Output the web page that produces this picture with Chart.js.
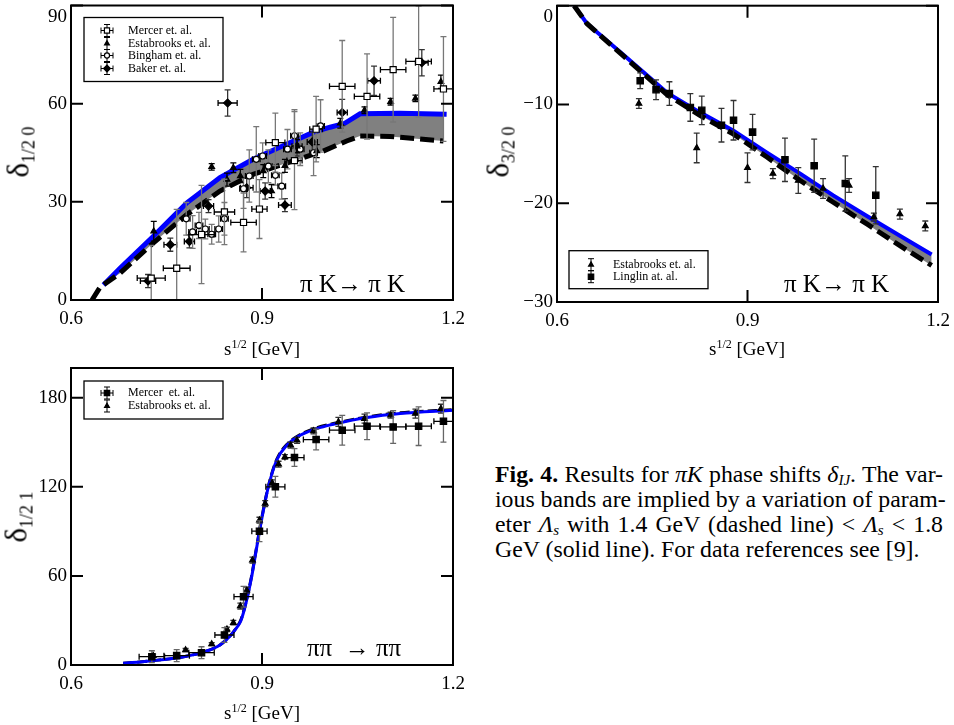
<!DOCTYPE html>
<html>
<head>
<meta charset="utf-8">
<script src="https://cdn.jsdelivr.net/npm/chart.js@4.4.1/dist/chart.umd.min.js"></script>
<style>
body{margin:0;width:954px;height:725px;background:#fff;position:relative;overflow:hidden;font-family:"Liberation Serif",serif;color:#000}
.pane{position:absolute}
.t{position:absolute;white-space:nowrap;line-height:1}
.ytitle{font-size:31px;transform:translate(-50%,-50%) rotate(-90deg)}
.ytitle sub{font-size:18px;vertical-align:-6px}
.xtitle{font-size:19px;transform:translate(-50%,-50%)}
.xtitle sup{font-size:12px;vertical-align:7px}
.react{font-size:25px;transform:translateY(-50%)}
#caption{position:absolute;left:495px;top:462px;width:448px;font-size:23.8px;line-height:25px}
#caption div{white-space:nowrap;text-align:justify;text-align-last:justify}
#caption div.last{text-align-last:left}
#caption sub{font-size:15px;line-height:0;vertical-align:-3px}
</style>
</head>
<body>
<canvas id="p1" class="pane" width="470" height="340" style="left:0;top:0"></canvas>
<canvas id="p2" class="pane" width="474" height="342" style="left:480px;top:0"></canvas>
<canvas id="p3" class="pane" width="470" height="345" style="left:0;top:360px"></canvas>

<div class="t ytitle" style="left:20px;top:152px">δ<sub>1/2 0</sub></div>
<div class="t ytitle" style="left:500px;top:152px">δ<sub>3/2 0</sub></div>
<div class="t ytitle" style="left:18px;top:517px">δ<sub>1/2 1</sub></div>

<div class="t xtitle" style="left:262px;top:348px">s<sup>1/2</sup> [GeV]</div>
<div class="t xtitle" style="left:747px;top:348px">s<sup>1/2</sup> [GeV]</div>
<div class="t xtitle" style="left:262px;top:712px">s<sup>1/2</sup> [GeV]</div>

<div class="t react" style="left:300px;top:283px">π K→ π K</div>
<div class="t react" style="left:784px;top:283px">π K→ π K</div>
<div class="t react" style="left:307px;top:647px">ππ&nbsp; → ππ</div>

<div id="caption">
<div><b>Fig. 4.</b> Results for <i>πK</i> phase shifts <i>δ<sub>IJ</sub></i>. The var-</div>
<div>ious bands are implied by a variation of param-</div>
<div>eter <i>Λ<sub>s</sub></i> with 1.4 GeV (dashed line) &lt; <i>Λ<sub>s</sub></i> &lt; 1.8</div>
<div class="last">GeV (solid line). For data references see [9].</div>
</div>

<script>
// axis ticks
const xTicks = [0.6, 0.9, 1.2];
const p1YTicks = [0, 30, 60, 90];
const p2YTicks = [0, -10, -20, -30];
const p3YTicks = [0, 60, 120, 180];

// ---- panel 1: delta 1/2 0 ----
const p1MercerX = [0.726, 0.766, 0.805, 0.841, 0.871, 0.896, 0.921, 0.951, 0.985, 1.026, 1.065, 1.106, 1.146, 1.185];
const p1MercerY = [6.7, 9.7, 20.0, 26.9, 23.7, 27.8, 48.1, 42.6, 52.2, 65.3, 62.2, 70.4, 72.9, 64.5];
const p1MercerXerr = [0.022, 0.021, 0.02, 0.016, 0.02, 0.012, 0.015, 0.012, 0.01, 0.02, 0.02, 0.02, 0.02, 0.015];
const p1MercerYerr = [10, 18, 15, 10, 9, 9, 9, 15, 10, 14, 13, 16, 17, 16];

const p1EstX = [0.730, 0.821, 0.845, 0.855, 0.866, 0.902, 0.915, 0.936, 0.955, 0.986, 1.023, 1.061, 1.102, 1.141, 1.181];
const p1EstY = [21.0, 40.7, 36.8, 40.4, 37.9, 39.4, 33.3, 41.0, 47.0, 45.5, 54.0, 58.0, 60.6, 61.6, 66.7];
const p1EstYerr = [3, 1, 2, 1.5, 2, 2, 2, 2, 2, 2, 1.5, 1, 1, 1, 2];

const p1BingX = [0.781, 0.791, 0.801, 0.811, 0.821, 0.832, 0.841, 0.871, 0.880, 0.891, 0.901, 0.910, 0.921, 0.931, 0.940, 0.951, 0.960, 0.981, 0.992];
const p1BingY = [24.8, 20.8, 22.8, 21.7, 20.1, 21.7, 24.8, 34.0, 37.9, 43.0, 44.0, 40.9, 38.1, 34.8, 46.1, 50.2, 46.1, 45.0, 53.2];
const p1BingXerr = [0.006, 0.006, 0.006, 0.006, 0.006, 0.006, 0.006, 0.006, 0.006, 0.006, 0.006, 0.006, 0.006, 0.006, 0.006, 0.006, 0.006, 0.006, 0.006];
const p1BingYerr = [5, 5, 4, 3, 3, 4, 5, 6, 8, 10, 4, 5, 3, 4, 6, 8, 5, 7, 8];

const p1BakerX = [0.721, 0.756, 0.786, 0.816, 0.846, 0.876, 0.905, 0.936, 0.955, 0.979, 1.026, 1.076, 1.151];
const p1BakerY = [5.8, 16.9, 17.9, 28.7, 60.2, 34.3, 33.3, 29.0, 47.0, 48.3, 57.3, 67.0, 72.5];
const p1BakerXerr = [0.012, 0.01, 0.008, 0.008, 0.015, 0.01, 0.008, 0.01, 0.008, 0.008, 0.008, 0.01, 0.01];
const p1BakerYerr = [2, 2, 2, 2, 4, 3, 2.5, 2, 3, 3, 4, 4.5, 4];

const p1SolidX = [0.651, 0.677, 0.729, 0.782, 0.834, 0.886, 0.941, 0.981, 1.007, 1.030, 1.054, 1.117, 1.190];
const p1SolidY = [4.6, 9.7, 19.4, 29.7, 37.4, 43.0, 47.8, 51.3, 52.8, 54.0, 56.9, 57.1, 56.8];
const p1DashX = [0.633, 0.646, 0.677, 0.729, 0.782, 0.834, 0.886, 0.941, 0.996, 1.033, 1.054, 1.101, 1.185];
const p1DashY = [0, 4, 8.2, 17.4, 26.1, 33.3, 38.4, 42.0, 45.5, 48.6, 50.1, 50.0, 48.6];

// ---- panel 2: delta 3/2 0 ----
const p2EstX = [0.729, 0.820, 0.900, 0.940, 0.980, 1.019, 1.060, 1.099, 1.140, 1.180];
const p2EstY = [-9.9, -14.4, -16.4, -17.0, -17.7, -18.5, -18.2, -21.4, -21.1, -22.3];
const p2EstYerr = [0.5, 1.5, 1.5, 0.5, 1.3, 1.0, 0.7, 0.4, 0.5, 0.5];

const p2LingX = [0.731, 0.756, 0.777, 0.810, 0.828, 0.859, 0.878, 0.908, 0.959, 1.005, 1.054, 1.102];
const p2LingY = [-7.6, -8.5, -8.9, -10.3, -10.6, -12.1, -11.6, -12.8, -15.6, -16.2, -18.0, -19.2];
const p2LingYerr = [0.8, 1.0, 1.2, 1.4, 1.45, 1.7, 2.0, 1.8, 2.2, 2.7, 2.8, 2.9];

const p2SolidX = [0.627, 0.647, 0.705, 0.773, 0.825, 0.878, 0.930, 0.983, 1.035, 1.088, 1.140, 1.190];
const p2SolidY = [0, -1.8, -5.0, -8.8, -10.8, -12.65, -14.85, -17.0, -19.2, -21.3, -23.3, -25.2];
const p2DashX = [0.627, 0.647, 0.705, 0.773, 0.825, 0.878, 0.930, 0.983, 1.035, 1.088, 1.140, 1.190];
const p2DashY = [0, -1.8, -5.1, -9.0, -11.1, -13.0, -15.3, -17.7, -19.9, -22.1, -24.3, -26.3];

// ---- panel 3: delta 1/2 1 ----
const p3MercerX = [0.727, 0.766, 0.805, 0.841, 0.871, 0.896, 0.921, 0.951, 0.985, 1.026, 1.065, 1.106, 1.146, 1.185];
const p3MercerY = [5.6, 6.3, 8.3, 20.2, 46.0, 90.1, 120.0, 139.7, 151.8, 158.1, 160.8, 160.3, 160.8, 164.1];
const p3MercerXerr = [0.02, 0.02, 0.02, 0.015, 0.015, 0.012, 0.015, 0.015, 0.02, 0.02, 0.02, 0.02, 0.02, 0.015];
const p3MercerYerr = [4, 4, 4, 5, 7, 7, 7, 6, 7, 10, 9, 11, 13, 14];

const p3EstX = [0.729, 0.780, 0.821, 0.845, 0.855, 0.866, 0.876, 0.885, 0.896, 0.905, 0.916, 0.926, 0.936, 0.945, 0.955, 0.981, 1.020, 1.061, 1.102, 1.141, 1.181];
const p3EstY = [6.3, 10.1, 14.1, 24.0, 28.5, 39.7, 50.4, 70.6, 97.5, 108.7, 122.6, 135.2, 140.1, 148.0, 151.3, 157.6, 163.7, 165.9, 168.2, 169.3, 172.6];
const p3EstYerr = [1, 1, 1, 1.5, 1.5, 2, 2, 2, 2, 2, 2, 2, 1.5, 2, 2, 2, 3, 3, 2, 3, 3];

const p3SolidX = [0.682, 0.724, 0.777, 0.813, 0.834, 0.850, 0.860, 0.867, 0.875, 0.884, 0.890, 0.896, 0.903, 0.910, 0.923, 0.939, 0.960, 0.986, 1.012, 1.065, 1.117, 1.200];
const p3SolidY = [1.1, 2.7, 5.6, 9.4, 13.5, 19.5, 25, 30, 42, 60, 75, 90, 106, 120, 137.9, 148, 154.7, 159.2, 162.1, 166.6, 169.3, 171.5];
const p3DashX = [0.682, 0.724, 0.777, 0.813, 0.834, 0.850, 0.860, 0.867, 0.875, 0.884, 0.890, 0.896, 0.903, 0.910, 0.923, 0.939, 0.960, 0.986, 1.012, 1.065, 1.117, 1.200];
const p3DashY = [1.1, 2.7, 5.6, 9.4, 13.5, 19.7, 25.3, 30.6, 42.6, 60.6, 75.6, 90.6, 106.5, 120.5, 138.3, 148.5, 155.2, 159.8, 162.6, 167.1, 169.8, 172.0];

Chart.defaults.font.family = '"Liberation Serif", serif';
Chart.defaults.color = '#000';

const fmt = v => v < 0 ? '\u2212' + Math.abs(v) : String(v);
const pts = (xs, ys) => xs.map((v, i) => ({x: v, y: ys[i]}));

function markers(label, xs, ys, xerr, yerr, style, radius, fill, errColor) {
    return {
        label: label, data: pts(xs, ys), xerr: xerr, yerr: yerr, errColor: errColor,
        showLine: false, pointStyle: style, pointRadius: radius,
        pointBackgroundColor: fill, pointBorderColor: '#000', pointBorderWidth: 1.2
    };
}

function curve(label, xs, ys, color, width, dash, fill, smooth) {
    return {
        label: label, data: pts(xs, ys), showLine: true, pointRadius: 0,
        borderColor: color, borderWidth: width, borderDash: dash,
        fill: fill, backgroundColor: '#808080',
        cubicInterpolationMode: smooth ? 'monotone' : 'default'
    };
}

// error bars drawn just before each marker dataset
const errorBars = {
    id: 'errorBars',
    beforeDatasetDraw(chart, args) {
        const ds = chart.data.datasets[args.index];
        if (!ds.yerr) return;
        const {ctx, chartArea: a, scales: {x, y}} = chart;
        const cap = 3;
        ctx.save();
        ctx.beginPath();
        ctx.rect(a.left, a.top, a.right - a.left, a.bottom - a.top);
        ctx.clip();
        ctx.lineWidth = 1.3;
        ds.data.forEach((p, i) => {
            const px = x.getPixelForValue(p.x), py = y.getPixelForValue(p.y);
            const xe = ds.xerr ? ds.xerr[i] : 0, ye = ds.yerr[i];
            if (ye) {
                const y1 = y.getPixelForValue(p.y + ye), y2 = y.getPixelForValue(p.y - ye);
                ctx.strokeStyle = ds.errColor;
                ctx.beginPath();
                ctx.moveTo(px, y1); ctx.lineTo(px, y2);
                ctx.moveTo(px - cap, y1); ctx.lineTo(px + cap, y1);
                ctx.moveTo(px - cap, y2); ctx.lineTo(px + cap, y2);
                ctx.stroke();
            }
            if (xe) {
                const x1 = x.getPixelForValue(p.x - xe), x2 = x.getPixelForValue(p.x + xe);
                ctx.strokeStyle = '#000';
                ctx.beginPath();
                ctx.moveTo(x1, py); ctx.lineTo(x2, py);
                ctx.moveTo(x1, py - cap); ctx.lineTo(x1, py + cap);
                ctx.moveTo(x2, py - cap); ctx.lineTo(x2, py + cap);
                ctx.stroke();
            }
        });
        ctx.restore();
    }
};

// box around the plot with inward tick marks on all four sides
const frame = {
    id: 'frame',
    afterDatasetsDraw(chart) {
        const {ctx, chartArea: a, scales: {x, y}} = chart;
        const L = 12;
        ctx.save();
        ctx.strokeStyle = '#000';
        ctx.lineWidth = 2;
        ctx.strokeRect(a.left, a.top, a.right - a.left, a.bottom - a.top);
        ctx.beginPath();
        x.ticks.forEach(t => {
            const px = x.getPixelForValue(t.value);
            ctx.moveTo(px, a.bottom); ctx.lineTo(px, a.bottom - L);
            ctx.moveTo(px, a.top); ctx.lineTo(px, a.top + L);
        });
        y.ticks.forEach(t => {
            const py = y.getPixelForValue(t.value);
            ctx.moveTo(a.left, py); ctx.lineTo(a.left + L, py);
            ctx.moveTo(a.right, py); ctx.lineTo(a.right - L, py);
        });
        ctx.stroke();
        ctx.restore();
    }
};

// legend box in the style of the original plot
const boxLegend = {
    id: 'boxLegend',
    afterDraw(chart, args, opts) {
        if (!opts.rows) return;
        const {ctx, chartArea: a} = chart;
        const bx = a.left + opts.box[0], by = a.top + opts.box[1];
        ctx.save();
        ctx.fillStyle = '#fff';
        ctx.fillRect(bx, by, opts.box[2], opts.box[3]);
        ctx.strokeStyle = '#000';
        ctx.lineWidth = 1.3;
        ctx.strokeRect(bx, by, opts.box[2], opts.box[3]);
        ctx.font = '12px "Liberation Serif"';
        ctx.textBaseline = 'middle';
        ctx.textAlign = 'left';
        opts.rows.forEach(r => {
            const ds = chart.data.datasets[r.ds];
            const sx = a.left + opts.symX, sy = a.top + r.y;
            ctx.strokeStyle = '#000';
            ctx.lineWidth = 1;
            ctx.beginPath();
            ctx.moveTo(sx, sy - 6); ctx.lineTo(sx, sy + 6);
            ctx.moveTo(sx - 3, sy - 6); ctx.lineTo(sx + 3, sy - 6);
            ctx.moveTo(sx - 3, sy + 6); ctx.lineTo(sx + 3, sy + 6);
            if (ds.xerr) {
                ctx.moveTo(sx - 6, sy); ctx.lineTo(sx + 6, sy);
                ctx.moveTo(sx - 6, sy - 3); ctx.lineTo(sx - 6, sy + 3);
                ctx.moveTo(sx + 6, sy - 3); ctx.lineTo(sx + 6, sy + 3);
            }
            ctx.stroke();
            ctx.fillStyle = ds.pointBackgroundColor;
            ctx.lineWidth = ds.pointBorderWidth;
            Chart.helpers.drawPoint(ctx, {pointStyle: ds.pointStyle, radius: ds.pointRadius * 0.85, borderWidth: ds.pointBorderWidth, rotation: 0}, sx, sy);
            ctx.fillStyle = '#000';
            ctx.fillText(ds.label, a.left + opts.textX, sy);
        });
        ctx.restore();
    }
};

function scales(yTicks, yMin, yMax, yWidth) {
    return {
        x: {
            type: 'linear', min: 0.6, max: 1.2,
            afterBuildTicks: s => { s.ticks = xTicks.map(v => ({value: v})); },
            afterFit: s => { s.height = 40; s.paddingLeft = 0; s.paddingRight = 0; },
            grid: {display: false, drawTicks: false}, border: {display: false},
            ticks: {padding: 8, maxRotation: 0, autoSkip: false, font: {size: 19}, callback: v => v.toFixed(1)}
        },
        y: {
            type: 'linear', min: yMin, max: yMax,
            afterBuildTicks: s => { s.ticks = yTicks.map(v => ({value: v})); },
            afterFit: s => { s.width = yWidth; s.paddingTop = 0; s.paddingBottom = 0; },
            grid: {display: false, drawTicks: false}, border: {display: false},
            ticks: {padding: 4, autoSkip: false, font: {size: 19}, callback: v => v === yMax ? ['', fmt(v)] : fmt(v)}
        }
    };
}

function makeChart(id, datasets, sc, padding, legend) {
    return new Chart(document.getElementById(id), {
        type: 'scatter',
        data: {datasets: datasets},
        options: {
            responsive: false,
            animation: false,
            events: [],
            layout: {padding: padding},
            scales: sc,
            plugins: {
                legend: {display: false},
                tooltip: {enabled: false},
                filler: {propagate: false, drawTime: 'beforeDatasetsDraw'},
                boxLegend: legend
            }
        },
        plugins: [errorBars, frame, boxLegend]
    });
}

makeChart('p1', [
    markers('Mercer et. al.', p1MercerX, p1MercerY, p1MercerXerr, p1MercerYerr, 'rect', 4.3, '#fff', '#777'),
    markers('Estabrooks et. al.', p1EstX, p1EstY, null, p1EstYerr, 'triangle', 3.3, '#000', '#000'),
    markers('Bingham et. al.', p1BingX, p1BingY, p1BingXerr, p1BingYerr, 'circle', 3, '#fff', '#777'),
    markers('Baker et. al.', p1BakerX, p1BakerY, p1BakerXerr, p1BakerYerr, 'rectRot', 4, '#000', '#333'),
    curve('1.4 GeV', p1DashX, p1DashY, '#000', 5, [14, 6], false, false),
    curve('1.8 GeV', p1SolidX, p1SolidY, '#0000ff', 5, [], '-1', false)
], scales(p1YTicks, 0, 90, 71), {top: 5, right: 17, left: 0, bottom: 0}, {
    box: [13, 12, 139, 64], symX: 36, textX: 57,
    rows: [{ds: 0, y: 25}, {ds: 1, y: 38}, {ds: 2, y: 50}, {ds: 3, y: 63}]
});

makeChart('p2', [
    markers('Estabrooks et. al.', p2EstX, p2EstY, null, p2EstYerr, 'triangle', 3.3, '#000', '#333'),
    markers('Linglin at. al.', p2LingX, p2LingY, null, p2LingYerr, 'rect', 4.5, '#000', '#333'),
    curve('1.4 GeV', p2DashX, p2DashY, '#000', 5, [14, 6], false, false),
    curve('1.8 GeV', p2SolidX, p2SolidY, '#0000ff', 4, [], '-1', false)
], scales(p2YTicks, -30, 0, 77), {top: 5, right: 16, left: 0, bottom: 0}, {
    box: [12, 245, 139, 38], symX: 34, textX: 56,
    rows: [{ds: 0, y: 259}, {ds: 1, y: 271}]
});

// here the solid curve sits on top of the dashed one
makeChart('p3', [
    markers('Mercer  et. al.', p3MercerX, p3MercerY, p3MercerXerr, p3MercerYerr, 'rect', 4.5, '#000', '#666'),
    markers('Estabrooks et. al.', p3EstX, p3EstY, null, p3EstYerr, 'triangle', 3.3, '#000', '#333'),
    curve('1.8 GeV', p3SolidX, p3SolidY, '#0000ff', 3, [], false, true),
    curve('1.4 GeV', p3DashX, p3DashY, '#000', 3, [10, 4], false, true)
], scales(p3YTicks, 0, 200, 71), {top: 8, right: 17, left: 0, bottom: 0}, {
    box: [13, 13, 139, 38], symX: 36, textX: 57,
    rows: [{ds: 0, y: 25}, {ds: 1, y: 38}]
});
</script>
</body>
</html>
